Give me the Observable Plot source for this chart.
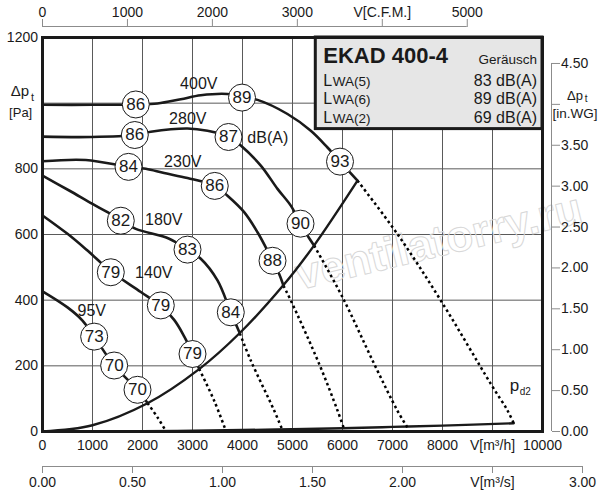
<!DOCTYPE html>
<html><head><meta charset="utf-8">
<script src="https://cdn.jsdelivr.net/npm/d3@7"></script>
<script src="https://cdn.jsdelivr.net/npm/@observablehq/plot@0.6"></script>
<style>body{margin:0;background:#fff}</style>
</head><body><div id="chart"></div>
<script>
// unit conversions for secondary axes
const CFM_TO_M3H = 1.699;
const PA_PER_INWG = 249.09;
const M3S_TO_M3H = 3600;

// axis ticks and labels
const flowTicks = [0,1000,2000,3000,4000,5000,6000,7000,8000,9000,10000];
const flowTickLabels = ["0","1000","2000","3000","4000","5000","6000","7000","8000","V[m³/h]","10000"];
const pressureTicks = [0,200,400,600,800,1000,1200];
const pressureTickLabels = ["0","200","400","600","800","","1200"];
const cfmTicks = [0,1000,2000,3000,4000,5000];
const cfmTickLabels = ["0","1000","2000","3000","V[C.F.M.]","5000"];
const m3sTicks = [0,0.5,1,1.5,2,2.5,3];
const m3sTickLabels = ["0.00","0.50","1.00","1.50","2.00","V[m³/s]","3.00"];
const inwgTicks = [0,0.5,1,1.5,2,2.5,3,3.5,4,4.5];
const inwgTickLabels = ["0.00","0.50","1.00","1.50","2.00","2.50","3.00","3.50","","4.50"];
const gridFlow = [1000,2000,3000,4000,5000,6000,7000,8000,9000];
const gridPressure = [200,400,600,800,1000];

// fan curves [flow m3/h, pressure Pa]
const fan400 = [[0,995],[1000,995],[1866,996],[2300,999],[2766,1012],[3166,1024],[3700,1028],[4000,1018],[4300,1010],[4900,967],[5366,916],[5700,865],[5966,820],[6300,764]];
const fan280 = [[0,898],[966,897],[1846,903],[2166,913],[2900,923],[3300,916],[3733,897],[3966,871],[4366,810],[4700,739],[4966,688],[5166,632],[5300,597],[5433,566]];
const fan230 = [[0,823],[866,827],[1720,806],[2066,800],[2433,787],[2900,772],[3453,748],[3700,718],[4033,668],[4300,607],[4466,561],[4600,520],[4733,480],[4820,444]];
const fan180 = [[0,779],[533,734],[1000,693],[1300,668],[1566,643],[1866,617],[2533,587],[2900,554],[3166,526],[3500,460],[3766,363],[3946,299]];
const fan140 = [[0,658],[500,602],[900,551],[1366,488],[1966,425],[2366,382],[2633,340],[2833,290],[3000,238],[3133,191]];
const fan95  = [[0,427],[500,378],[800,338],[1033,289],[1433,201],[1900,127],[2100,87]];

// dotted continuations
const dot400 = [[6300,764],[7100,601],[7966,399],[8966,145],[9300,64],[9426,25]];
const dot280 = [[5433,566],[6000,409],[6633,206],[7100,63],[7300,12]];
const dot230 = [[4820,444],[4966,399],[5533,206],[5900,64],[6033,7]];
const dot180 = [[3946,299],[4166,216],[4633,64],[4800,4]];
const dot140 = [[3133,191],[3433,94],[3666,3]];
const dot95  = [[2100,87],[2300,43],[2466,2]];

// system curve and dynamic pressure pd2
const systemCurve = [[0,0],[1000,19],[2100,86],[3133,190],[3946,300],[4820,446],[5433,567],[6300,764]];
const pd2Curve = [[0,0],[2000,1],[4000,4.5],[5000,7],[6000,10],[7000,14],[8000,18],[9426,25]];

// sound level markers
const dbFlow     = [1866,3990,5950, 1846,3720,5160, 1720,3445,4600, 1566,2900,3766, 1366,2366,3000, 1033,1433,1900];
const dbPressure = [996,1017,822,   903,897,633,    806,748,520,    642,554,363,    485,384,236,    289,201,127];
const dbValue    = [86,89,93,       86,87,90,       84,86,88,       82,83,84,       79,79,79,       73,70,70];

// curve labels
const curveLabelText = ["400V","280V","230V","180V","140V","95V","dB(A)"];
const curveLabelFlow = [3126,2906,2806,2426,2226,986,4506];
const curveLabelPressure = [1059,953,822,645,484,368,894];

// info box
const boxTitle = "EKAD 400-4";
const boxHeader = "Geräusch";
const noiseNames = ["WA(5)","WA(6)","WA(2)"];
const noiseValues = ["83 dB(A)","89 dB(A)","69 dB(A)"];
const boxFlow = [5466,10000];
const boxPressure = [921,1200];

const toRows = (name, pts) => pts.map(([q,p]) => ({name, q, p}));
const fanRows = [...toRows("400V",fan400),...toRows("280V",fan280),...toRows("230V",fan230),...toRows("180V",fan180),...toRows("140V",fan140),...toRows("95V",fan95)];
const dotRows = [...toRows("400V",dot400),...toRows("280V",dot280),...toRows("230V",dot230),...toRows("180V",dot180),...toRows("140V",dot140),...toRows("95V",dot95)];
const sysRows = toRows("sys", systemCurve);
const pdRows = toRows("pd2", pd2Curve);
const dbRows = dbValue.map((v,i) => ({q: dbFlow[i], p: dbPressure[i], v: String(v)}));
const labelRows = curveLabelText.map((t,i) => ({q: curveLabelFlow[i], p: curveLabelPressure[i], t}));

const cfmPos = cfmTicks.map(c => c*CFM_TO_M3H);
const m3sPos = m3sTicks.map(v => v*M3S_TO_M3H);
const inwgPos = inwgTicks.map(v => v*PA_PER_INWG);

const INK = "#1a1a1a", AX = "#8c8c8c";
const rowDy = [48, 66.3, 85.7];

const chart = Plot.plot({
  width: 600, height: 500,
  marginLeft: 42, marginRight: 58, marginTop: 37, marginBottom: 69,
  x: {domain: [0,10000]},
  y: {domain: [0,1200]},
  style: {fontFamily: "'Liberation Sans', Arial, Helvetica, sans-serif", fontSize: "14px", color: INK, background: "#fff", overflow: "visible"},
  marks: [
    Plot.ruleX(gridFlow, {stroke: "#5a5a5a", strokeWidth: 1}),
    Plot.ruleY(gridPressure, {stroke: "#5a5a5a", strokeWidth: 1}),
    Plot.text([{q:7926, p:577}], {x:"q", y:"p", text: () => "ventilatorry.ru", rotate: -13.5, fontSize: 44, fontWeight: "bold", fill: "none", stroke: "#d8d8d8", strokeWidth: 1}),
    Plot.rect([{x1: boxFlow[0], x2: boxFlow[1], y1: boxPressure[0], y2: boxPressure[1]}], {x1:"x1", x2:"x2", y1:"y1", y2:"y2", fill: "#e6e6e6", stroke: INK, strokeWidth: 3}),
    Plot.text([boxTitle], {x: boxFlow[0], y: boxPressure[1], text: d => d, dx: 7.5, dy: 25.3, textAnchor: "start", lineAnchor: "bottom", fontSize: 22, fontWeight: "bold"}),
    Plot.text([boxHeader], {x: boxFlow[1], y: boxPressure[1], text: d => d, dx: -5.5, dy: 26.3, textAnchor: "end", lineAnchor: "bottom", fontSize: 13.5}),
    ...noiseNames.flatMap((n,i) => [
      Plot.text(["L"], {x: boxFlow[0], y: boxPressure[1], text: d => d, dx: 7.5, dy: rowDy[i], textAnchor: "start", lineAnchor: "bottom", fontSize: 16}),
      Plot.text([n], {x: boxFlow[0], y: boxPressure[1], text: d => d, dx: 17, dy: rowDy[i], textAnchor: "start", lineAnchor: "bottom", fontSize: 13.5}),
      Plot.text([noiseValues[i]], {x: boxFlow[1], y: boxPressure[1], text: d => d, dx: -5.5, dy: rowDy[i], textAnchor: "end", lineAnchor: "bottom", fontSize: 16})
    ]),
    Plot.line(sysRows, {x:"q", y:"p", curve: "catmull-rom", stroke: INK, strokeWidth: 2.4}),
    Plot.line(pdRows, {x:"q", y:"p", curve: "catmull-rom", stroke: INK, strokeWidth: 2.4}),
    Plot.line(dotRows, {x:"q", y:"p", z:"name", curve: "catmull-rom", stroke: "#000", strokeWidth: 2.5, strokeDasharray: "2.6,3", strokeLinecap: "butt"}),
    Plot.line(fanRows, {x:"q", y:"p", z:"name", curve: "catmull-rom", stroke: INK, strokeWidth: 2.6}),
    Plot.dot(dbRows, {x:"q", y:"p", r: 13.5, fill: "#fff", stroke: INK, strokeWidth: 1}),
    Plot.text(dbRows, {x:"q", y:"p", text:"v", fontSize: 17}),
    Plot.text(labelRows, {x:"q", y:"p", text:"t", fontSize: 16}),
    Plot.text(["p"], {x: 9346, y: 123, text: d => d, textAnchor: "start", lineAnchor: "bottom", fontSize: 17}),
    Plot.text(["d2"], {x: 9546, y: 110, text: d => d, textAnchor: "start", lineAnchor: "bottom", fontSize: 10}),
    Plot.frame({stroke: INK, strokeWidth: 3}),
    // left axis
    Plot.axisY(pressureTicks, {anchor: "left", tickSize: 0, tickPadding: 4.5, tickFormat: d => pressureTickLabels[pressureTicks.indexOf(d)], label: null}),
    Plot.text(["Δp"], {x: 0, y: 1000, text: d => d, dx: -31.7, dy: -7.5, textAnchor: "start", lineAnchor: "bottom", fontSize: 15}),
    Plot.text(["t"], {x: 0, y: 1000, text: d => d, dx: -11.4, dy: -2.5, textAnchor: "start", lineAnchor: "bottom", fontSize: 11}),
    Plot.text(["[Pa]"], {x: 0, y: 1000, text: d => d, dx: -33.4, dy: 14.2, textAnchor: "start", lineAnchor: "bottom", fontSize: 13}),
    // bottom m3/h axis
    Plot.axisX(flowTicks, {anchor: "bottom", tickSize: 0, tickPadding: 9, tickFormat: d => flowTickLabels[flowTicks.indexOf(d)], label: null}),
    // bottom m3/s axis
    Plot.ruleY([0], {x1: 0, x2: 3*M3S_TO_M3H, dy: 35, stroke: AX, strokeWidth: 1}),
    Plot.axisX(m3sPos, {anchor: "bottom", tickSize: 7, tickPadding: 3.5, dy: 35, stroke: AX, tickFormat: d => m3sTickLabels[m3sPos.indexOf(d)], label: null}),
    // top CFM axis
    Plot.ruleY([1200], {x1: 0, x2: 5000*CFM_TO_M3H, dy: -11, stroke: AX, strokeWidth: 1}),
    Plot.axisX(cfmPos, {anchor: "top", tickSize: 8, tickPadding: 1.5, dy: -11, stroke: AX, tickFormat: d => cfmTickLabels[cfmPos.indexOf(d)], label: null}),
    // right in.WG axis
    Plot.ruleX([10000], {y1: 0, y2: 4.5*PA_PER_INWG, dx: 9, stroke: AX, strokeWidth: 1}),
    Plot.axisY(inwgPos, {anchor: "right", tickSize: 8, tickPadding: 1.5, dx: 9, stroke: AX, tickFormat: d => inwgTickLabels[inwgPos.indexOf(d)], label: null}),
    Plot.text(["Δp"], {x: 10000, y: 4*PA_PER_INWG, text: d => d, dx: 32.5, dy: -4.4, textAnchor: "middle", lineAnchor: "bottom", fontSize: 13}),
    Plot.text(["t"], {x: 10000, y: 4*PA_PER_INWG, text: d => d, dx: 42.3, dy: -2, textAnchor: "start", lineAnchor: "bottom", fontSize: 10}),
    Plot.text(["[in.WG]"], {x: 10000, y: 4*PA_PER_INWG, text: d => d, dx: 32.5, dy: 13.3, textAnchor: "middle", lineAnchor: "bottom", fontSize: 13.5})
  ]
});
document.getElementById("chart").appendChild(chart);
</script>
</body></html>
